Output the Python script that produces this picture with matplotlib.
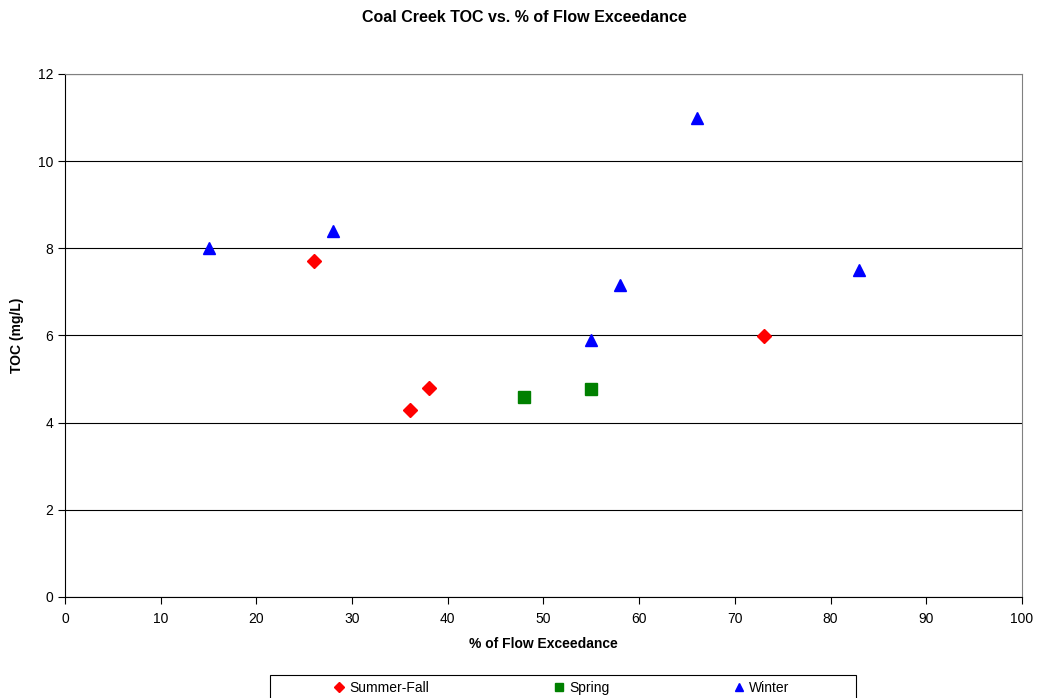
import matplotlib
matplotlib.use("Agg")
import matplotlib.pyplot as plt
from matplotlib.patches import Rectangle

plt.rcParams['font.family'] = ['Liberation Sans', 'DejaVu Sans']

# TOC samples by season: % flow exceedance vs TOC (mg/L)
summer_x = [26, 36, 38, 73]
summer_y = [7.7, 4.28, 4.8, 5.98]
spring_x = [48, 55]
spring_y = [4.6, 4.77]
winter_x = [15, 28, 55, 58, 66, 83]
winter_y = [8.0, 8.4, 5.9, 7.15, 10.98, 7.5]

xticks = list(range(0, 101, 10))
yticks = list(range(0, 13, 2))

fig = plt.figure(figsize=(10.38, 6.98), dpi=100)
ax = fig.add_axes([0.0626, 0.1447, 0.922, 0.7493])

ax.plot(summer_x, summer_y, linestyle='none', marker='D', color='#ff0000', ms=7, label='Summer-Fall')
ax.plot(spring_x, spring_y, linestyle='none', marker='s', color='#008000', ms=8, label='Spring')
ax.plot(winter_x, winter_y, linestyle='none', marker='^', color='#0000ff', ms=8.5, label='Winter')

ax.set_xlim(0, 100)
ax.set_ylim(0, 12)
ax.set_xticks(xticks)
ax.set_yticks(yticks)
ax.yaxis.grid(True, color='black', linewidth=0.8)
ax.set_axisbelow(True)
ax.tick_params(direction='out', length=5, labelsize=10, color='black')
ax.tick_params(axis='x', pad=6)
for side in ['top', 'right']:
    ax.spines[side].set_color('#808080')
for side in ['left', 'bottom']:
    ax.spines[side].set_color('black')

ax.set_xlabel('% of Flow Exceedance', fontsize=10, fontweight='bold', labelpad=8)
ax.set_ylabel('TOC (mg/L)', fontsize=10, fontweight='bold', labelpad=10)
fig.suptitle('Coal Creek TOC vs. % of Flow Exceedance', fontsize=11.5, fontweight='bold', x=0.505, y=0.985)

# legend box runs off the bottom edge of the figure
fig.patches.append(Rectangle((0.2601, -0.02), 0.5645, 0.053, transform=fig.transFigure,
                             facecolor='white', edgecolor='black', linewidth=0.8, zorder=0))
leg = fig.legend(loc='center', bbox_to_anchor=(0.541, 0.0143), ncol=3, fontsize=10,
                 frameon=False, handletextpad=0.35, handlelength=0.8, markerscale=0.75,
                 columnspacing=8.9, borderaxespad=0, borderpad=0)

fig.savefig('out.png', dpi=100)
